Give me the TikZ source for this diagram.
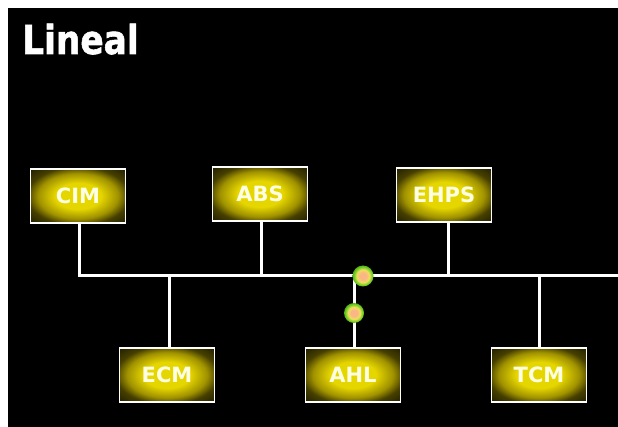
\documentclass[tikz,border=0pt]{standalone}
\usepackage{fontspec}
\setmainfont{DejaVu Sans}
\newfontfamily\titlefont{DejaVu Sans Bold}[FakeBold=1.5]
\usepackage{graphicx}
\definecolor{boxin}{RGB}{230,214,0}
\definecolor{boxmid}{RGB}{160,146,0}
\definecolor{boxedge}{RGB}{70,63,0}
\definecolor{boxout}{RGB}{32,29,0}
\definecolor{dotin}{RGB}{250,182,132}
\definecolor{dotmid}{RGB}{240,222,96}
\definecolor{dotout}{RGB}{104,206,30}
\definecolor{labeltext}{RGB}{255,255,228}
\pgfdeclareradialshading{boxglow}{\pgfpoint{0bp}{0bp}}{%
  color(0bp)=(boxin); color(12bp)=(boxin); color(21bp)=(boxmid);
  color(27bp)=(boxedge); color(36bp)=(boxout); color(50bp)=(boxout)}
\pgfdeclareradialshading{dotglow}{\pgfpoint{0bp}{0bp}}{%
  color(0bp)=(dotin); color(8bp)=(dotin); color(15bp)=(dotmid);
  color(22bp)=(dotout); color(25bp)=(dotout!85!black); color(50bp)=(dotout!85!black)}
\tikzset{
  module/.style={draw=white, line width=1.8pt, shading=boxglow,
    minimum width=95pt, minimum height=54pt, inner sep=0pt,
    font=\bfseries\fontsize{21}{21}\selectfont, text=labeltext},
  wire/.style={draw=white, line width=3pt},
  joint/.style={circle, shading=dotglow, minimum size=21pt, inner sep=0pt},
}
\begin{document}
\begin{tikzpicture}[x=1pt,y=-1pt]
  % page and black panel
  \fill[white] (0,0) rectangle (618,427);
  \fill[black] (8,8) rectangle (618,427);
  \useasboundingbox (0,0) rectangle (618,427);

  % title
  \node[anchor=base west, inner sep=0pt, text=white,
        font=\titlefont\fontsize{40}{40}\selectfont] (title) at (22,54)
        {\scalebox{0.86}[1]{Lineal}};

  % modules above the bus
  \node[module] (cim)  at (78,196)  {CIM};
  \node[module] (abs)  at (260,194) {ABS};
  \node[module] (ehps) at (444,195) {EHPS};
  % modules below the bus
  \node[module] (ecm)  at (167,375) {ECM};
  \node[module] (ahl)  at (353,375) {AHL};
  \node[module] (tcm)  at (539,375) {TCM};

  % bus line
  \coordinate (busR) at (618,276);
  \draw[wire] ([xshift=1pt]cim.south) |- (busR);
  \draw[wire] ([xshift=1pt]abs.south) -- ([xshift=1pt]abs.south |- busR);
  \draw[wire] ([xshift=4pt]ehps.south) -- ([xshift=4pt]ehps.south |- busR);
  \draw[wire] ([xshift=2pt]ecm.north) -- ([xshift=2pt]ecm.north |- busR);
  \draw[wire] ([xshift=1pt]ahl.north) -- ([xshift=1pt]ahl.north |- busR);
  \draw[wire] (tcm.north) -- (tcm.north |- busR);

  % joints
  \node[joint] (j1) at (363,276) {};
  \node[joint, minimum size=20pt] (j2) at (354,313) {};
\end{tikzpicture}
\end{document}
